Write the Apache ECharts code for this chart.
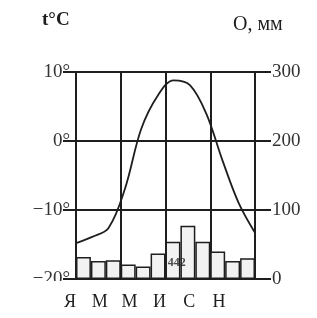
<!DOCTYPE html>
<html>
<head>
<meta charset="utf-8">
<script src="https://cdn.jsdelivr.net/npm/echarts@6/dist/echarts.min.js"></script>
<style>
    html, body { margin: 0; padding: 0; background: #fff; }
    #chart-container { width: 317px; height: 318px; }
</style>
</head>
<body>
<div id="chart-container"></div>
<script>
// climatogram: monthly temperature + precipitation
const months = ['Я', 'Ф', 'М', 'А', 'М', 'И', 'И', 'А', 'С', 'О', 'Н', 'Д'];
const monthTicks = ['Я', 'М', 'М', 'И', 'С', 'Н'];
const temperature = [-14.8, -13.9, -12.6, -7.0, 1.7, 6.5, 8.8, 8.1, 4.0, -2.8, -9.0, -13.3];
const precipitation = [32, 26, 27, 21, 18, 37, 54, 77, 54, 40, 26, 30];
const annualTotal = '442';

const ink = '#1e1e1e';
const serif = '"Liberation Serif", "DejaVu Serif", serif';

const chart = echarts.init(document.querySelector('#chart-container'), null, {
    renderer: 'canvas',
    devicePixelRatio: 1
});

/**
 * minus sign + degree for the left axis
 */
function degLabel(v) {
    return (v < 0 ? '\u2212' + (-v) : v) + '\u00b0';
}

chart.setOption({
    backgroundColor: '#fff',
    animation: false,
    grid: [
        { left: 76, right: 62, top: 72, bottom: 39 },
        // only carries the month letters, they sit a bit left of the bars
        { left: 55, width: 179, top: 72, bottom: 39 }
    ],
    graphic: [
        {
            type: 'text', left: 42, top: 11,
            style: { text: 't\u00b0C', font: 'bold 19px ' + serif, fill: ink }
        },
        {
            type: 'text', left: 233, top: 15,
            style: { text: 'О, мм', font: '20px ' + serif, fill: ink }
        },
        {
            // the scan cuts off the lower half of the -20 label
            type: 'rect', left: 0, top: 281, z: 100,
            shape: { width: 74, height: 10 },
            style: { fill: '#fff' }
        }
    ],
    xAxis: [
        {
            type: 'category', gridIndex: 0, data: months, boundaryGap: true,
            axisLine: { show: true, lineStyle: { color: ink, width: 2 } },
            axisTick: { show: false }, axisLabel: { show: false }, splitLine: { show: false }
        },
        {
            type: 'category', gridIndex: 0, data: months, boundaryGap: false, show: false
        },
        {
            // vertical grid lines every 3 months
            type: 'value', gridIndex: 0, min: 0, max: 12, interval: 3,
            axisLine: { show: false }, axisTick: { show: false }, axisLabel: { show: false },
            splitLine: { show: true, lineStyle: { color: ink, width: 2 } }
        },
        {
            type: 'category', gridIndex: 1, data: monthTicks, boundaryGap: true,
            axisLine: { show: false }, axisTick: { show: false }, splitLine: { show: false },
            axisLabel: { margin: 14, color: ink, fontSize: 18, fontFamily: serif }
        }
    ],
    yAxis: [
        {
            type: 'value', gridIndex: 0, min: -20, max: 10, interval: 10, position: 'left',
            axisLine: { show: true, lineStyle: { color: ink, width: 2 } },
            axisTick: { show: true, length: 13, lineStyle: { color: ink, width: 2 } },
            axisLabel: { margin: 6, color: '#333', fontSize: 19, fontFamily: serif, formatter: degLabel },
            splitLine: { show: true, lineStyle: { color: ink, width: 2 } }
        },
        {
            type: 'value', gridIndex: 0, min: 0, max: 300, interval: 100, position: 'right',
            axisLine: { show: true, lineStyle: { color: ink, width: 2 } },
            axisTick: { show: true, length: 16, lineStyle: { color: ink, width: 2 } },
            axisLabel: { margin: 17, color: '#333', fontSize: 19, fontFamily: serif },
            splitLine: { show: false }
        },
        {
            type: 'value', gridIndex: 1, show: false
        }
    ],
    series: [
        {
            type: 'bar', xAxisIndex: 0, yAxisIndex: 1, data: precipitation,
            barWidth: '100%', barGap: '0%',
            itemStyle: { color: '#f2f2f2', borderColor: ink, borderWidth: 1.5 },
            z: 1
        },
        {
            type: 'line', xAxisIndex: 1, yAxisIndex: 0, data: temperature,
            smooth: 0.35, symbol: 'none',
            lineStyle: { color: ink, width: 1.8 },
            z: 3
        },
        {
            // annual total written over the summer bars
            type: 'scatter', xAxisIndex: 2, yAxisIndex: 1, symbolSize: 0,
            data: [[6.75, 24]],
            label: {
                show: true, position: 'inside', formatter: annualTotal,
                color: '#222', fontSize: 12, fontWeight: 'bold', fontFamily: serif
            },
            z: 4
        }
    ]
});
</script>
</body>
</html>
